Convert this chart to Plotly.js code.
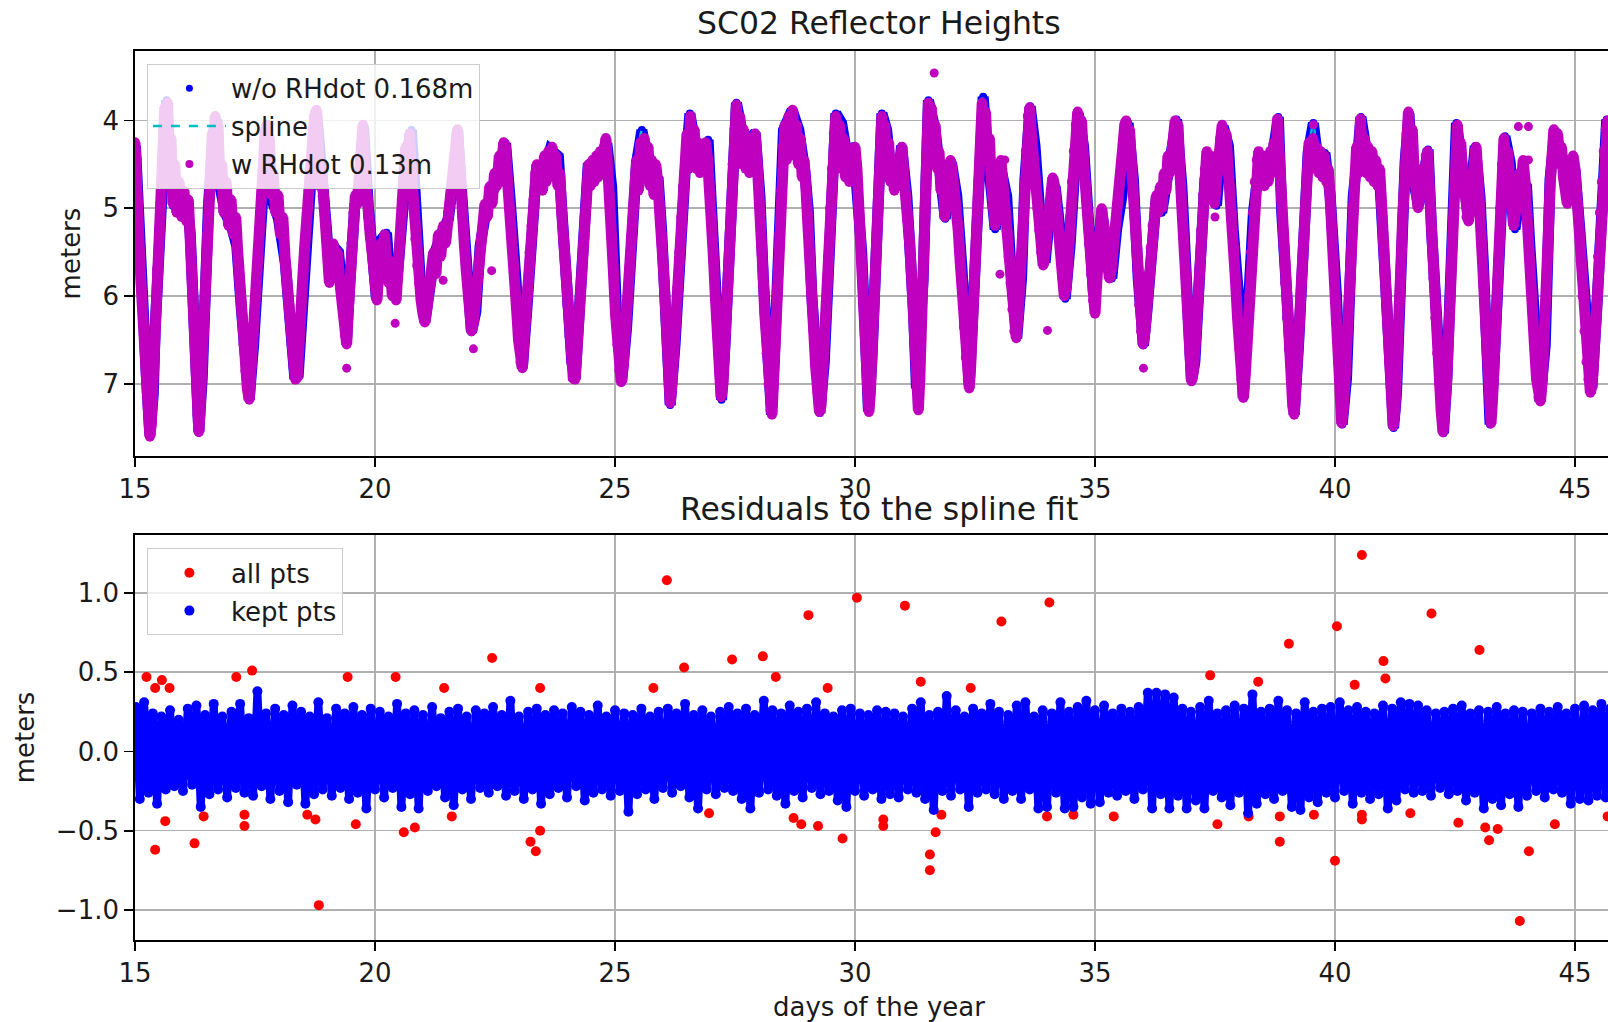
<!DOCTYPE html>
<html><head><meta charset="utf-8">
<script src="https://cdn.plot.ly/plotly-3.0.1.min.js"></script>
<style>html,body{margin:0;padding:0;overflow:hidden;background:#fff}#chart{width:1625px;height:1022px}</style>
</head><body><div id="chart"></div>
<script>
// ---- Top panel: reflector heights (day of year, meters) ----
const rhWithDot = [
[15.00,4.25],[15.02,4.75],[15.04,4.45],[15.06,5.00],[15.09,5.45],[15.12,5.80],[15.15,6.10],[15.19,6.45],[15.23,6.95],[15.27,7.35],[15.31,7.60],[15.34,7.45],[15.37,7.10],[15.40,6.60],[15.43,6.20],[15.46,5.70],[15.50,5.25],[15.53,4.95],[15.56,4.60],[15.59,4.10],[15.62,3.85],[15.65,4.40],[15.68,3.80],[15.71,4.60],[15.75,4.20],[15.79,4.95],[15.83,4.50],[15.87,5.05],[15.92,4.70],[15.97,5.10],[16.02,4.80],[16.07,5.15],[16.11,4.90],[16.15,5.35],[16.19,5.90],[16.23,6.40],[16.27,6.95],[16.30,7.35],[16.33,7.55],[16.36,7.25],[16.39,6.90],[16.42,6.40],[16.46,5.85],[16.50,5.30],[16.53,4.95],[16.57,4.50],[16.61,4.15],[16.64,4.40],[16.67,3.95],[16.70,4.50],[16.73,4.05],[16.77,4.75],[16.81,4.50],[16.85,5.05],[16.90,4.70],[16.95,5.20],[17.00,4.90],[17.05,5.30],[17.10,5.10],[17.14,5.50],[17.18,5.90],[17.22,6.20],[17.26,6.55],[17.30,6.85],[17.34,7.05],[17.38,7.18],[17.41,6.95],[17.45,6.60],[17.49,6.20],[17.53,5.80],[17.57,5.45],[17.61,5.05],[17.64,4.80],[17.68,4.45],[17.71,4.15],[17.74,4.05],[17.77,4.50],[17.80,4.20],[17.84,4.85],[17.88,4.60],[17.93,5.05],[17.98,4.85],[18.03,5.30],[18.08,5.10],[18.13,5.60],[18.18,5.95],[18.22,6.25],[18.26,6.55],[18.30,6.80],[18.34,6.95],[18.38,6.92],[18.42,6.65],[18.46,6.20],[18.50,5.75],[18.54,5.40],[18.58,5.05],[18.62,4.80],[18.66,4.45],[18.70,4.10],[18.74,3.95],[18.78,3.88],[18.81,4.40],[18.85,4.75],[18.89,4.55],[18.93,5.00],[18.97,5.20],[19.01,5.50],[19.05,5.85],[19.09,5.55],[19.13,5.40],[19.18,5.65],[19.22,5.50],[19.26,5.80],[19.30,6.00],[19.34,6.15],[19.38,6.45],[19.41,6.55],[19.44,6.20],[19.47,5.80],[19.51,5.40],[19.55,5.05],[19.59,4.85],[19.63,4.95],[19.67,4.60],[19.71,4.30],[19.75,4.05],[19.78,4.50],[19.82,4.90],[19.86,5.10],[19.90,5.30],[19.95,5.55],[20.00,5.85],[20.04,6.05],
[20.08,5.70],[20.12,5.40],[20.16,5.55],[20.20,5.30],[20.24,5.60],[20.28,5.85],[20.32,5.60],[20.36,6.00],[20.40,5.75],[20.44,6.05],[20.48,5.70],[20.52,5.30],[20.56,4.90],[20.60,4.55],[20.64,4.30],[20.68,4.70],[20.72,4.15],[20.76,4.60],[20.80,5.00],[20.84,5.35],[20.88,5.65],[20.92,5.85],[20.96,6.05],[21.00,6.20],[21.04,6.30],[21.08,6.15],[21.12,5.90],[21.17,5.85],[21.22,5.50],[21.27,5.75],[21.32,5.30],[21.37,5.55],[21.42,5.20],[21.47,5.40],[21.52,5.05],[21.56,4.95],[21.60,4.80],[21.64,4.55],[21.68,4.30],[21.72,4.10],[21.75,4.50],[21.78,4.80],[21.82,5.10],[21.86,5.40],[21.90,5.70],[21.94,6.00],[21.98,6.25],[22.01,6.40],[22.05,6.30],[22.09,6.10],[22.13,5.85],[22.17,5.60],[22.21,5.35],[22.25,5.25],[22.29,4.95],[22.34,5.10],[22.39,4.75],[22.44,4.95],[22.49,4.60],[22.54,4.75],[22.59,4.40],[22.64,4.55],[22.68,4.25],[22.72,4.30],[22.75,4.60],[22.79,4.85],[22.83,5.15],[22.87,5.45],[22.91,5.80],[22.95,6.15],[22.99,6.50],[23.03,6.75],[23.07,6.82],[23.10,6.55],[23.14,6.25],[23.18,5.90],[23.22,5.50],[23.26,5.20],[23.30,4.90],[23.34,4.60],[23.37,4.50],[23.41,4.75],[23.45,4.60],[23.49,4.80],[23.53,4.40],[23.57,4.70],[23.61,4.35],[23.65,4.55],[23.69,4.30],[23.73,4.60],[23.77,4.40],[23.81,4.75],[23.85,4.60],[23.89,5.05],[23.93,5.40],[23.97,5.75],[24.01,6.10],[24.05,6.45],[24.09,6.75],[24.13,6.93],[24.17,6.95],[24.21,6.65],[24.25,6.25],[24.29,5.90],[24.33,5.50],[24.37,5.10],[24.41,4.75],[24.45,4.50],[24.49,4.75],[24.53,4.45],[24.57,4.70],[24.61,4.40],[24.65,4.65],[24.69,4.35],[24.73,4.60],[24.77,4.30],[24.81,4.20],[24.85,4.55],[24.89,4.85],[24.93,5.30],[24.97,5.75],[25.01,6.20],[25.05,6.55],[25.09,6.85],[25.13,6.98],
[25.17,6.80],[25.21,6.45],[25.25,6.10],[25.29,5.75],[25.33,5.35],[25.37,5.00],[25.41,4.70],[25.45,4.45],[25.49,4.80],[25.53,4.25],[25.57,4.65],[25.61,4.20],[25.65,4.60],[25.69,4.30],[25.73,4.75],[25.77,4.45],[25.81,4.85],[25.85,4.50],[25.89,4.70],[25.93,4.95],[25.97,5.30],[26.01,5.70],[26.05,6.10],[26.09,6.55],[26.12,6.95],[26.15,7.22],[26.18,7.05],[26.22,6.70],[26.26,6.30],[26.30,5.90],[26.34,5.50],[26.38,5.10],[26.42,4.75],[26.46,4.45],[26.50,4.15],[26.54,4.55],[26.57,3.95],[26.61,4.40],[26.65,4.10],[26.69,4.55],[26.73,4.25],[26.77,4.60],[26.81,4.30],[26.85,4.50],[26.89,4.25],[26.93,4.45],[26.97,4.70],[27.01,5.10],[27.05,5.55],[27.09,6.00],[27.13,6.45],[27.17,6.85],[27.21,7.15],[27.25,7.00],[27.29,6.60],[27.33,6.15],[27.37,5.60],[27.41,5.00],[27.45,4.50],[27.49,4.10],[27.53,3.82],[27.56,4.35],[27.60,3.95],[27.64,4.50],[27.68,4.10],[27.72,4.55],[27.76,4.20],[27.80,4.60],[27.84,4.20],[27.88,4.50],[27.92,4.15],[27.96,4.45],[28.00,4.75],[28.04,5.15],[28.08,5.70],[28.12,6.20],[28.16,6.65],[28.20,7.00],[28.24,7.30],[28.27,7.35],[28.30,7.00],[28.34,6.50],[28.38,5.90],[28.42,5.30],[28.46,4.80],[28.50,4.30],[28.54,4.05],[28.58,4.45],[28.62,3.95],[28.66,4.40],[28.70,3.88],[28.74,4.35],[28.78,4.05],[28.82,4.50],[28.86,4.20],[28.90,4.65],[28.94,4.45],[28.98,4.80],[29.02,5.10],[29.06,5.50],[29.10,5.95],[29.14,6.40],[29.18,6.80],[29.22,7.10],[29.26,7.32],[29.29,7.25],[29.32,6.95],[29.36,6.55],[29.40,6.05],[29.44,5.55],[29.48,5.00],[29.52,4.55],[29.56,4.15],[29.60,3.95],[29.64,4.40],[29.68,4.05],[29.72,4.55],[29.76,4.20],[29.80,4.65],[29.84,4.30],[29.88,4.70],[29.92,4.45],[29.96,4.60],[30.00,4.30],
[30.04,4.55],[30.07,4.90],[30.11,5.30],[30.15,5.75],[30.19,6.20],[30.23,6.65],[30.26,7.05],[30.29,7.32],[30.32,7.10],[30.35,6.70],[30.39,6.20],[30.43,5.65],[30.47,5.10],[30.50,4.65],[30.53,4.25],[30.56,3.95],[30.59,4.35],[30.62,4.05],[30.66,4.55],[30.70,4.25],[30.74,4.70],[30.78,4.45],[30.82,4.80],[30.86,4.50],[30.90,4.75],[30.94,4.40],[30.98,4.30],[31.02,4.65],[31.06,4.85],[31.10,5.05],[31.14,5.40],[31.18,5.80],[31.22,6.20],[31.26,6.70],[31.29,7.05],[31.32,7.30],[31.35,6.95],[31.38,6.50],[31.41,6.00],[31.44,5.40],[31.47,4.85],[31.50,4.30],[31.53,3.80],[31.56,4.20],[31.59,3.85],[31.63,4.35],[31.67,4.05],[31.71,4.55],[31.75,4.35],[31.79,4.80],[31.83,4.60],[31.87,5.10],[31.91,4.80],[31.95,4.55],[31.99,4.45],[32.03,4.60],[32.07,4.75],[32.11,4.95],[32.15,5.25],[32.19,5.60],[32.23,5.95],[32.27,6.35],[32.31,6.70],[32.35,6.95],[32.38,7.05],[32.41,6.80],[32.45,6.35],[32.49,5.85],[32.53,5.25],[32.57,4.70],[32.61,4.25],[32.65,3.80],[32.68,4.30],[32.72,3.90],[32.76,4.45],[32.80,4.20],[32.84,4.70],[32.88,4.95],[32.92,5.20],[32.96,4.90],[33.00,4.65],[33.04,4.45],[33.08,4.70],[33.12,4.95],[33.16,5.25],[33.20,5.55],[33.24,5.85],[33.28,6.15],[33.32,6.40],[33.36,6.48],[33.40,6.20],[33.44,5.80],[33.48,5.30],[33.52,4.80],[33.56,4.35],[33.60,3.95],[33.64,3.85],[33.68,4.20],[33.72,4.45],[33.76,4.75],[33.80,5.00],[33.84,5.25],[33.88,5.50],[33.92,5.65],[33.96,5.50],[34.00,5.25],[34.04,5.00],[34.08,4.80],[34.12,4.65],[34.16,4.75],[34.20,4.95],[34.24,5.20],[34.28,5.50],[34.32,5.80],[34.36,6.00],[34.40,5.90],[34.44,5.55],[34.48,5.10],[34.52,4.70],[34.56,4.35],[34.60,4.05],[34.64,3.90],[34.68,4.20],[34.72,4.00],[34.76,4.45],[34.80,4.75],[34.84,5.05],[34.88,5.40],[34.92,5.75],[34.96,6.05],[35.00,6.20],
[35.03,5.90],[35.06,5.50],[35.10,5.15],[35.14,5.00],[35.18,5.20],[35.22,5.45],[35.26,5.65],[35.30,5.80],[35.34,5.70],[35.38,5.40],[35.42,5.20],[35.46,5.00],[35.50,4.80],[35.54,4.55],[35.58,4.30],[35.62,4.05],[35.65,4.00],[35.68,4.30],[35.72,4.10],[35.76,4.50],[35.80,4.85],[35.84,5.25],[35.88,5.70],[35.92,6.10],[35.96,6.40],[36.00,6.55],[36.04,6.40],[36.08,6.10],[36.12,5.75],[36.16,5.45],[36.20,5.20],[36.24,5.00],[36.28,4.85],[36.32,5.05],[36.36,4.75],[36.40,5.00],[36.44,4.60],[36.48,4.80],[36.52,4.40],[36.56,4.60],[36.60,4.30],[36.64,4.15],[36.67,4.00],[36.70,4.30],[36.73,4.05],[36.77,4.60],[36.81,4.95],[36.85,5.35],[36.89,5.80],[36.93,6.25],[36.97,6.65],[37.01,6.97],[37.05,6.85],[37.09,6.55],[37.13,6.15],[37.17,5.70],[37.21,5.25],[37.25,4.85],[37.29,4.55],[37.33,4.35],[37.37,4.60],[37.41,4.40],[37.45,4.75],[37.49,4.95],[37.53,4.70],[37.57,4.40],[37.61,4.20],[37.65,4.05],[37.69,4.35],[37.73,4.15],[37.77,4.50],[37.81,4.75],[37.85,5.05],[37.89,5.45],[37.93,5.85],[37.97,6.25],[38.01,6.60],[38.05,6.95],[38.09,7.16],[38.13,6.90],[38.17,6.50],[38.21,6.00],[38.25,5.50],[38.29,5.05],[38.33,4.70],[38.37,4.45],[38.41,4.35],[38.45,4.65],[38.49,4.40],[38.53,4.75],[38.57,4.45],[38.61,4.70],[38.65,4.35],[38.69,4.60],[38.73,4.25],[38.77,4.50],[38.80,3.98],[38.84,4.40],[38.88,4.90],[38.92,5.40],[38.96,5.85],[39.00,6.25],[39.04,6.60],[39.08,6.95],[39.12,7.25],[39.15,7.35],[39.18,7.15],[39.22,6.75],[39.26,6.30],[39.30,5.85],[39.34,5.40],[39.38,4.95],[39.42,4.55],[39.46,4.25],[39.50,4.50],[39.54,4.20],[39.58,4.55],[39.62,4.30],[39.66,4.60],[39.70,4.35],[39.74,4.65],[39.78,4.40],[39.82,4.70],[39.86,4.55],[39.90,4.90],[39.94,5.30],[39.98,5.80],[40.02,6.30],
[40.06,6.75],[40.10,7.10],[40.14,7.45],[40.17,7.30],[40.21,6.95],[40.25,6.50],[40.29,6.00],[40.33,5.50],[40.37,5.00],[40.41,4.60],[40.45,4.30],[40.49,4.60],[40.53,3.98],[40.57,4.40],[40.61,4.20],[40.65,4.60],[40.69,4.30],[40.73,4.65],[40.77,4.35],[40.81,4.70],[40.85,4.45],[40.89,4.75],[40.93,4.55],[40.97,4.95],[41.01,5.40],[41.05,5.85],[41.09,6.30],[41.13,6.75],[41.17,7.15],[41.21,7.48],[41.25,7.30],[41.29,6.90],[41.33,6.30],[41.37,5.70],[41.41,5.10],[41.45,4.60],[41.49,4.15],[41.53,3.90],[41.57,4.35],[41.61,4.10],[41.65,4.60],[41.69,4.80],[41.73,5.00],[41.77,4.80],[41.81,4.55],[41.85,4.70],[41.89,4.40],[41.93,4.35],[41.97,4.80],[42.01,5.30],[42.05,5.80],[42.09,6.25],[42.13,6.65],[42.17,7.00],[42.21,7.30],[42.25,7.55],[42.28,7.40],[42.32,7.05],[42.36,6.55],[42.40,5.95],[42.44,5.35],[42.48,4.80],[42.52,4.30],[42.55,4.05],[42.58,4.40],[42.62,4.25],[42.66,4.60],[42.70,4.85],[42.74,5.10],[42.78,5.15],[42.82,4.90],[42.86,4.60],[42.90,4.35],[42.94,4.30],[42.98,4.65],[43.02,5.00],[43.06,5.45],[43.10,5.90],[43.14,6.35],[43.18,6.80],[43.22,7.25],[43.25,7.45],[43.28,7.20],[43.32,6.75],[43.36,6.20],[43.40,5.60],[43.44,5.00],[43.48,4.50],[43.52,4.20],[43.56,4.50],[43.60,4.35],[43.64,4.70],[43.68,4.95],[43.72,5.20],[43.76,5.05],[43.80,4.80],[43.84,4.60],[43.88,4.75],[43.92,4.45],[43.96,4.70],[44.00,5.00],[44.04,5.40],[44.08,5.80],[44.12,6.20],[44.16,6.60],[44.20,6.95],[44.24,7.15],[44.28,7.20],[44.32,6.95],[44.36,6.55],[44.40,6.00],[44.44,5.35],[44.48,4.75],[44.52,4.35],[44.56,4.10],[44.60,4.40],[44.64,4.15],[44.68,4.50],[44.72,4.30],[44.76,4.65],[44.80,4.80],[44.84,4.95],[44.88,4.70],[44.92,4.50],[44.96,4.40],[45.00,4.55],[45.04,4.85],[45.08,5.20],[45.12,5.60],[45.16,6.00],[45.20,6.40],[45.24,6.75],[45.28,6.95],[45.32,7.10],[45.36,7.00],[45.40,6.60],[45.44,6.10],[45.48,5.55],[45.52,5.05],[45.56,4.70],[45.60,4.35],[45.64,4.10],[45.68,4.00],[45.72,4.20]
];
const rhWithDotOutliers = [[19.41,6.82],[20.42,6.31],[21.42,5.82],[22.05,6.60],[22.43,5.71],[31.65,3.46],[33.02,5.75],[33.12,4.45],[34.01,6.39],[36.01,6.82],[37.50,5.10],[39.55,4.05],[43.82,4.07],[44.03,4.07],[44.03,4.45]];
const rhNoDot = [
[15.01,4.29],[15.06,4.97],[15.10,5.62],[15.17,6.18],[15.24,6.94],[15.31,7.58],[15.38,7.12],[15.42,6.37],[15.49,5.43],[15.56,4.86],[15.61,3.92],[15.66,3.77],[15.73,4.48],[15.83,4.97],[15.97,5.05],[16.08,4.94],[16.15,5.28],[16.22,6.18],[16.28,7.12],[16.33,7.54],[16.40,6.94],[16.46,5.80],[16.53,4.97],[16.63,4.14],[16.70,3.99],[16.77,4.75],[16.88,5.05],[17.01,5.20],[17.12,5.43],[17.22,6.18],[17.29,6.75],[17.38,7.18],[17.47,6.56],[17.57,5.62],[17.64,4.86],[17.74,4.18],[17.85,4.90],[17.99,5.12],[18.13,5.62],[18.23,6.18],[18.33,6.94],[18.40,6.90],[18.47,6.18],[18.54,5.43],[18.65,4.79],[18.78,3.88],[18.89,4.86],[18.99,5.24],[19.06,5.80],[19.13,5.43],[19.24,5.50],[19.34,6.11],[19.41,6.48],[19.48,5.80],[19.58,4.97],[19.69,4.90],[19.76,4.07],[19.86,4.97],[20.00,5.80],
[20.03,6.03],[20.14,5.35],[20.24,5.28],[20.31,5.80],[20.42,6.03],[20.49,5.62],[20.59,4.86],[20.69,4.29],[20.76,4.11],[20.83,5.05],[20.94,5.80],[21.04,6.29],[21.15,5.88],[21.25,5.50],[21.39,5.28],[21.53,5.12],[21.63,4.67],[21.72,4.11],[21.81,4.86],[21.91,5.62],[22.01,6.41],[22.10,6.18],[22.19,5.43],[22.33,4.97],[22.50,4.75],[22.64,4.41],[22.72,4.26],[22.81,4.86],[22.92,5.80],[23.02,6.63],[23.07,6.82],[23.16,6.18],[23.26,5.24],[23.37,4.52],[23.47,4.67],[23.65,4.33],[23.82,4.41],[23.89,5.05],[23.99,5.80],[24.10,6.75],[24.17,6.94],[24.27,6.18],[24.38,5.05],[24.44,4.52],[24.58,4.45],[24.72,4.41],[24.83,4.26],[24.93,4.75],[25.03,6.18],
[25.14,6.97],[25.24,6.37],[25.35,5.24],[25.45,4.48],[25.56,4.11],[25.66,4.41],[25.80,4.60],[25.90,4.67],[25.97,5.24],[26.04,5.99],[26.11,6.94],[26.15,7.24],[26.25,6.56],[26.35,5.43],[26.46,4.60],[26.56,3.92],[26.67,4.29],[26.81,4.48],[26.94,4.22],[26.98,4.67],[27.05,5.43],[27.12,6.37],[27.22,7.18],[27.29,6.56],[27.36,5.62],[27.43,4.67],[27.53,3.80],[27.64,4.11],[27.78,4.22],[27.92,4.14],[28.02,4.86],[28.09,5.80],[28.18,6.75],[28.26,7.35],[28.33,6.56],[28.40,5.43],[28.51,4.11],[28.69,3.88],[28.83,4.11],[28.96,4.60],[29.03,5.05],[29.10,5.99],[29.20,6.94],[29.27,7.33],[29.36,6.75],[29.44,5.62],[29.51,4.67],[29.60,3.92],[29.72,4.03],[29.86,4.48],[29.97,4.29],
[30.07,4.86],[30.14,5.50],[30.21,6.37],[30.28,7.31],[30.35,6.75],[30.42,5.80],[30.49,4.86],[30.56,3.92],[30.66,4.11],[30.76,4.67],[30.90,4.67],[30.97,4.29],[31.08,4.86],[31.15,5.43],[31.22,6.18],[31.28,7.05],[31.35,6.56],[31.42,5.80],[31.47,4.86],[31.53,3.77],[31.67,4.11],[31.77,4.67],[31.88,5.12],[32.01,4.48],[32.12,4.86],[32.22,5.62],[32.29,6.37],[32.38,7.01],[32.44,6.37],[32.53,5.24],[32.60,4.29],[32.67,3.73],[32.78,4.48],[32.92,5.24],[33.06,4.60],[33.16,4.86],[33.26,5.80],[33.37,6.48],[33.47,5.80],[33.54,4.67],[33.65,3.84],[33.75,4.29],[33.85,5.05],[33.96,5.62],[34.06,5.05],[34.17,4.75],[34.27,5.24],[34.38,6.03],[34.48,5.43],[34.58,4.48],[34.65,3.92],[34.76,4.29],[34.86,5.05],[34.97,5.99],
[35.14,5.05],[35.24,5.43],[35.35,5.80],[35.45,5.24],[35.56,4.86],[35.69,4.03],[35.80,4.67],[35.90,5.80],[36.01,6.56],[36.08,6.18],[36.18,5.43],[36.28,4.86],[36.39,5.05],[36.53,4.60],[36.70,3.99],[36.81,4.75],[36.91,5.80],[37.01,6.97],[37.08,6.75],[37.19,5.80],[37.29,4.67],[37.40,4.41],[37.53,4.97],[37.67,4.07],[37.78,4.29],[37.88,5.24],[37.99,5.99],[38.09,7.16],[38.19,6.18],[38.30,5.05],[38.44,4.41],[38.61,4.67],[38.75,4.22],[38.82,3.96],[38.89,5.05],[39.00,6.18],[39.10,6.94],[39.15,7.35],[39.24,6.56],[39.34,5.43],[39.44,4.37],[39.55,4.03],[39.65,4.48],[39.79,4.37],[39.90,4.86],
[40.03,5.99],[40.10,6.94],[40.15,7.46],[40.24,6.94],[40.31,5.80],[40.38,4.86],[40.49,4.29],[40.54,3.96],[40.66,4.37],[40.80,4.48],[40.94,4.75],[41.01,5.43],[41.08,6.18],[41.15,6.94],[41.22,7.50],[41.28,7.12],[41.33,6.18],[41.39,5.24],[41.46,4.48],[41.54,3.92],[41.63,4.67],[41.74,4.97],[41.84,4.67],[41.94,4.33],[42.01,5.24],[42.08,5.99],[42.19,6.94],[42.26,7.56],[42.33,6.94],[42.40,5.80],[42.47,4.86],[42.53,4.03],[42.64,4.48],[42.78,5.12],[42.92,4.29],[43.02,4.86],[43.09,5.62],[43.16,6.37],[43.23,7.46],[43.30,6.94],[43.37,5.99],[43.44,4.86],[43.54,4.18],[43.65,4.48],[43.75,5.24],[43.89,4.67],[43.99,4.75],[44.06,5.43],[44.13,6.18],[44.20,6.94],[44.27,7.20],[44.38,6.56],[44.41,5.80],[44.48,4.67],[44.58,4.11],[44.72,4.41],[44.86,4.86],[45.00,4.56],[45.10,5.24],[45.21,6.18],[45.35,7.05],[45.45,6.18],[45.56,4.86],[45.66,3.99],[45.72,4.15]
];

// ---- Bottom panel: residuals to the spline fit (day of year, meters) ----
const residAllOutliers = [
[15.24,0.47],[15.42,0.40],[15.56,0.45],[15.72,0.40],[15.42,-0.62],[15.63,-0.44],[16.24,-0.58],[16.43,-0.41],[17.11,0.47],[17.44,0.51],[17.28,-0.40],[17.28,-0.47],[18.59,-0.40],[18.76,-0.43],[18.83,-0.97],[19.43,0.47],[19.60,-0.46],[20.43,0.47],[20.60,-0.51],[20.83,-0.48],[21.44,0.40],[21.60,-0.41],[22.44,0.59],[23.44,0.40],[23.24,-0.57],[23.35,-0.63],[23.44,-0.50],[25.80,0.40],[26.08,1.08],[26.44,0.53],[26.96,-0.39],[27.44,0.58],[28.08,0.60],[28.35,0.47],[28.72,-0.42],[28.88,-0.46],[29.03,0.86],[29.23,-0.47],[29.43,0.40],[29.74,-0.55],[30.04,0.97],[30.59,-0.43],[30.59,-0.47],[31.04,0.92],[31.37,0.44],[31.80,-0.40],[31.68,-0.51],[31.56,-0.65],[31.56,-0.75],[32.41,0.40],[33.05,0.82],[34.00,-0.41],[34.05,0.94],[34.55,-0.40],[35.39,-0.41],[37.40,0.48],[37.55,-0.46],[38.40,0.44],[38.20,-0.41],[38.85,-0.41],[38.85,-0.57],[39.04,0.68],[39.56,-0.40],[40.04,0.79],[40.00,-0.69],[40.56,1.24],[40.41,0.42],[41.01,0.57],[41.05,0.46],[40.56,-0.40],[40.56,-0.43],[41.57,-0.39],[42.01,0.87],[42.57,-0.45],[43.01,0.64],[43.13,-0.48],[43.21,-0.56],[43.39,-0.49],[43.85,-1.07],[44.04,-0.63],[44.58,-0.46],[45.68,-0.41]
];
const residKept = [
[15.02,0.28],[15.10,-0.30],[15.19,0.31],[15.28,-0.26],[15.37,0.24],[15.46,-0.33],[15.55,0.22],[15.64,-0.24],[15.73,0.26],[15.82,-0.22],[15.91,0.20],[16.00,-0.25],[16.10,0.27],[16.19,-0.21],[16.28,0.29],[16.37,-0.35],[16.46,0.23],[16.55,-0.27],[16.64,0.30],[16.73,-0.24],[16.82,0.22],[16.92,-0.29],[17.01,0.25],[17.10,-0.23],[17.19,0.30],[17.28,-0.26],[17.37,0.21],[17.46,-0.28],[17.55,0.38],[17.64,-0.22],[17.73,0.24],[17.82,-0.30],[17.92,0.27],[18.01,-0.25],[18.10,0.23],[18.19,-0.32],[18.28,0.29],[18.37,-0.21],[18.46,0.25],[18.55,-0.33],[18.64,0.22],[18.73,-0.27],[18.82,0.31],[18.91,-0.24],[19.00,0.21],[19.10,-0.28],[19.19,0.27],[19.28,-0.23],[19.37,0.24],[19.46,-0.30],[19.55,0.28],[19.64,-0.26],[19.73,0.23],[19.82,-0.36],[19.91,0.27],[20.00,-0.24],[20.10,0.25],[20.19,-0.29],[20.28,0.22],[20.37,-0.23],[20.46,0.30],[20.55,-0.35],[20.64,0.24],[20.73,-0.27],[20.82,0.26],[20.91,-0.36],[21.00,0.23],[21.10,-0.25],[21.19,0.28],[21.28,-0.22],[21.37,0.21],[21.46,-0.29],[21.55,0.25],[21.64,-0.34],[21.73,0.27],[21.82,-0.24],[21.91,0.22],[22.00,-0.30],[22.10,0.26],[22.19,-0.23],[22.28,0.24],[22.37,-0.26],[22.46,0.28],[22.55,-0.22],[22.64,0.23],[22.73,-0.28],[22.82,0.32],[22.91,-0.25],[23.00,0.22],[23.10,-0.30],[23.19,0.25],[23.28,-0.24],[23.37,0.27],[23.46,-0.33],[23.55,0.23],[23.64,-0.27],[23.73,0.26],[23.82,-0.23],[23.91,0.24],[24.00,-0.29],[24.10,0.28],[24.19,-0.22],[24.28,0.25],[24.37,-0.31],[24.46,0.23],[24.55,-0.26],[24.64,0.29],[24.73,-0.24],[24.82,0.22],[24.91,-0.28],[25.00,0.26],[25.10,-0.25],[25.19,0.24],[25.28,-0.38],[25.37,0.23],[25.46,-0.27],[25.55,0.27],[25.64,-0.24],[25.73,0.22],[25.82,-0.30],[25.91,0.25],[26.00,-0.23],[26.10,0.27],[26.19,-0.26],[26.28,0.24],[26.37,-0.22],[26.46,0.30],[26.55,-0.29],[26.64,0.23],[26.73,-0.36],[26.82,0.26],[26.91,-0.24],[27.00,0.22],[27.10,-0.27],[27.19,0.25],[27.28,-0.23],[27.37,0.28],[27.46,-0.25],[27.55,0.24],[27.64,-0.30],[27.73,0.27],[27.82,-0.36],[27.91,0.23],[28.00,-0.26],[28.10,0.32],[28.19,-0.24],[28.28,0.26],[28.37,-0.28],[28.46,0.24],[28.55,-0.33],[28.64,0.29],[28.73,-0.25],[28.82,0.25],[28.91,-0.29],[29.00,0.27],[29.10,-0.23],[29.19,0.31],[29.28,-0.27],[29.37,0.24],[29.46,-0.25],[29.55,0.22],[29.64,-0.31],[29.73,0.26],[29.82,-0.35],[29.91,0.27],[30.00,-0.25],[30.10,0.24],[30.19,-0.28],[30.28,0.23],[30.37,-0.24],[30.46,0.26],[30.55,-0.30],[30.64,0.25],[30.73,-0.27],[30.82,0.24],[30.91,-0.29],[31.00,0.22],[31.10,-0.24],[31.19,0.27],[31.28,-0.26],[31.37,0.31],[31.46,-0.30],[31.55,0.23],[31.64,-0.37],[31.73,0.25],[31.82,-0.25],[31.91,0.35],[32.00,-0.28],[32.10,0.26],[32.19,-0.24],[32.28,0.22],[32.37,-0.35],[32.46,0.27],[32.55,-0.26],[32.64,0.24],[32.73,-0.24],[32.82,0.30],[32.91,-0.27],[33.00,0.25],[33.10,-0.30],[33.19,0.23],[33.28,-0.25],[33.37,0.29],[33.46,-0.30],[33.55,0.31],[33.64,-0.24],[33.73,0.22],[33.82,-0.36],[33.91,0.26],[34.00,-0.35],[34.10,0.24],[34.19,-0.26],[34.28,0.31],[34.37,-0.36],[34.46,0.25],[34.55,-0.35],[34.64,0.28],[34.73,-0.29],[34.82,0.32],[34.91,-0.33],[35.00,0.26],[35.10,-0.32],[35.19,0.29],[35.28,-0.26],[35.37,0.24],[35.46,-0.28],[35.55,0.27],[35.64,-0.25],[35.73,0.25],[35.82,-0.30],[35.91,0.28],[36.00,-0.24],[36.10,0.37],[36.19,-0.36],[36.28,0.37],[36.37,-0.27],[36.46,0.36],[36.55,-0.36],[36.64,0.34],[36.73,-0.28],[36.82,0.27],[36.91,-0.36],[37.00,0.25],[37.10,-0.31],[37.19,0.28],[37.28,-0.36],[37.37,0.32],[37.46,-0.25],[37.55,0.24],[37.64,-0.29],[37.73,0.26],[37.82,-0.34],[37.91,0.29],[38.00,-0.26],[38.10,0.27],[38.19,-0.39],[38.28,0.36],[38.37,-0.33],[38.46,0.25],[38.55,-0.27],[38.64,0.27],[38.73,-0.30],[38.82,0.32],[38.91,-0.25],[39.00,0.26],[39.10,-0.35],[39.19,0.24],[39.28,-0.37],[39.37,0.31],[39.46,-0.29],[39.55,0.25],[39.64,-0.32],[39.73,0.27],[39.82,-0.26],[39.91,0.28],[40.00,-0.29],[40.10,0.31],[40.19,-0.25],[40.28,0.26],[40.37,-0.33],[40.46,0.28],[40.55,-0.26],[40.64,0.25],[40.73,-0.30],[40.82,0.24],[40.91,-0.27],[41.00,0.29],[41.10,-0.36],[41.19,0.27],[41.28,-0.31],[41.37,0.31],[41.46,-0.24],[41.55,0.30],[41.64,-0.26],[41.73,0.29],[41.82,-0.25],[41.91,0.26],[42.00,-0.28],[42.10,0.24],[42.19,-0.23],[42.28,0.25],[42.37,-0.27],[42.46,0.27],[42.55,-0.25],[42.64,0.29],[42.73,-0.31],[42.82,0.24],[42.91,-0.26],[43.00,0.26],[43.10,-0.36],[43.19,0.25],[43.28,-0.30],[43.37,0.28],[43.46,-0.34],[43.55,0.24],[43.64,-0.27],[43.73,0.26],[43.82,-0.35],[43.91,0.25],[44.00,-0.28],[44.10,0.24],[44.19,-0.25],[44.28,0.27],[44.37,-0.29],[44.46,0.25],[44.55,-0.24],[44.64,0.28],[44.73,-0.26],[44.82,0.24],[44.91,-0.33],[45.00,0.27],[45.10,-0.30],[45.19,0.29],[45.28,-0.31],[45.37,0.26],[45.46,-0.28],[45.55,0.30],[45.64,-0.29],[45.73,0.27]
];
const xTicks = [15, 20, 25, 30, 35, 40, 45];
const yTicksTop = [4, 5, 6, 7];
const yTicksBottom = [-1.0, -0.5, 0.0, 0.5, 1.0];

const col = (arr, i) => arr.map(p => p[i]);
const FONT = 'DejaVu Sans, Liberation Sans, sans-serif';
const TXT = '#1a1a1a';

const traces = [
  {x: col(rhNoDot,0), y: col(rhNoDot,1), xaxis:'x', yaxis:'y', mode:'lines+markers',
   line:{color:'#0000ff', width:11}, marker:{color:'#0000ff', size:8}, showlegend:false, hoverinfo:'skip'},
  {x: col(rhNoDot,0), y: col(rhNoDot,1), xaxis:'x', yaxis:'y', mode:'lines',
   line:{color:'#00bfbf', width:2.5, dash:'dash', shape:'spline', smoothing:0.6}, showlegend:false, hoverinfo:'skip'},
  {x: col(rhWithDot,0), y: col(rhWithDot,1), xaxis:'x', yaxis:'y', mode:'lines+markers',
   line:{color:'#bf00bf', width:11}, marker:{color:'#bf00bf', size:10}, showlegend:false, hoverinfo:'skip'},
  {x: col(rhWithDotOutliers,0), y: col(rhWithDotOutliers,1), xaxis:'x', yaxis:'y', mode:'markers',
   marker:{color:'#bf00bf', size:9}, showlegend:false, hoverinfo:'skip'},
  {x:[null], y:[null], xaxis:'x', yaxis:'y', mode:'markers', marker:{color:'#0000ff', size:7},
   name:'w/o RHdot 0.168m', legend:'legend', legendgroup:'g1'},
  {x:[null], y:[null], xaxis:'x', yaxis:'y', mode:'lines', line:{color:'#00bfbf', width:2.5, dash:'dash'},
   name:'spline', legend:'legend', legendgroup:'g2'},
  {x:[null], y:[null], xaxis:'x', yaxis:'y', mode:'markers', marker:{color:'#bf00bf', size:8},
   name:'w RHdot 0.13m', legend:'legend', legendgroup:'g3'},
  {x: col(residAllOutliers,0), y: col(residAllOutliers,1), xaxis:'x2', yaxis:'y2', mode:'markers',
   marker:{color:'#ff0000', size:10}, showlegend:false, hoverinfo:'skip'},
  {x: col(residKept,0), y: col(residKept,1), xaxis:'x2', yaxis:'y2', mode:'lines+markers',
   line:{color:'#0000ff', width:8}, marker:{color:'#0000ff', size:10}, showlegend:false, hoverinfo:'skip'},
  {x:[null], y:[null], xaxis:'x2', yaxis:'y2', mode:'markers', marker:{color:'#ff0000', size:10},
   name:'all pts', legend:'legend2', legendgroup:'g4'},
  {x:[null], y:[null], xaxis:'x2', yaxis:'y2', mode:'markers', marker:{color:'#0000ff', size:10},
   name:'kept pts', legend:'legend2', legendgroup:'g5'}
];

const axisBase = {
  showline:true, linecolor:'#000', linewidth:1.8, mirror:true,
  ticks:'outside', ticklen:9, tickwidth:1.8, tickcolor:'#000',
  showgrid:true, gridcolor:'#b0b0b0', gridwidth:1.6, zeroline:false,
  tickfont:{family:FONT, size:26, color:TXT}
};
const legendBase = {
  xanchor:'left', yanchor:'top', bgcolor:'rgba(255,255,255,0.8)', bordercolor:'#cccccc', borderwidth:1,
  font:{family:FONT, size:26, color:TXT}, tracegroupgap:1, itemwidth:73
};

const layout = {
  width:1625, height:1022,
  margin:{l:135, r:2, t:51, b:82},
  paper_bgcolor:'#fff', plot_bgcolor:'#fff',
  showlegend:true,
  xaxis: Object.assign({}, axisBase, {domain:[0,1], anchor:'y', range:[15,46], tickvals:xTicks}),
  yaxis: Object.assign({}, axisBase, {domain:[0.5444,1], anchor:'x', range:[7.82,3.21], tickvals:yTicksTop,
          title:{text:'meters', font:{family:FONT, size:26, color:TXT}, standoff:14}}),
  xaxis2: Object.assign({}, axisBase, {domain:[0,1], anchor:'y2', range:[15,46], tickvals:xTicks,
          title:{text:'days of the year', font:{family:FONT, size:26, color:TXT}, standoff:12}}),
  yaxis2: Object.assign({}, axisBase, {domain:[0,0.4556], anchor:'x2', range:[-1.19,1.366], tickvals:yTicksBottom,
          tickformat:'.1f', title:{text:'meters', font:{family:FONT, size:26, color:TXT}, standoff:14}}),
  legend: Object.assign({}, legendBase, {x:0.008, y:0.9855}),
  legend2: Object.assign({}, legendBase, {x:0.008, y:0.4405}),
  annotations:[
    {text:'SC02 Reflector Heights', xref:'paper', yref:'paper', x:0.5, y:1.0315, xanchor:'center', yanchor:'middle',
     showarrow:false, font:{family:FONT, size:31.5, color:TXT}},
    {text:'Residuals to the spline fit', xref:'paper', yref:'paper', x:0.5, y:0.4848, xanchor:'center', yanchor:'middle',
     showarrow:false, font:{family:FONT, size:31.5, color:TXT}}
  ]
};

Plotly.newPlot('chart', traces, layout, {displayModeBar:false, staticPlot:true});
</script>
</body></html>
